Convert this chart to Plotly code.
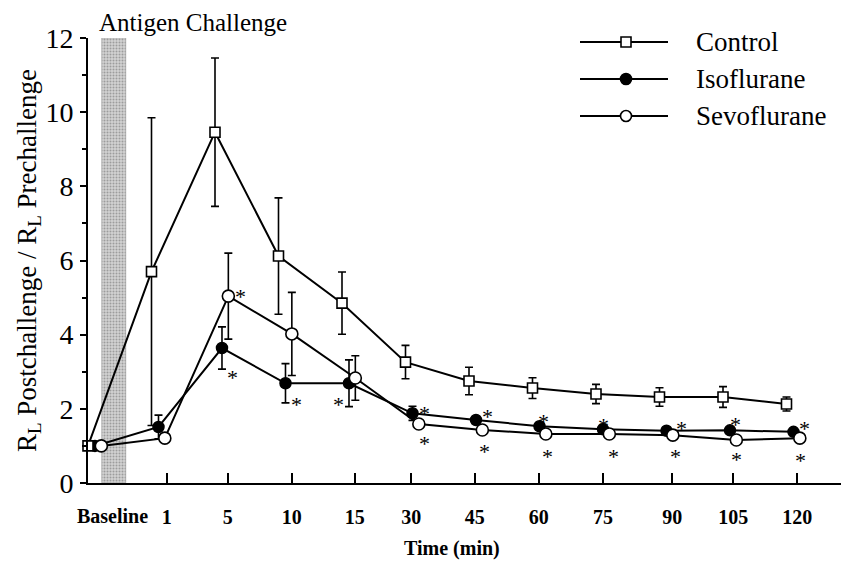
import plotly.graph_objects as go

# ---------------- data ----------------
tick_labels = ["Baseline", "1", "5", "10", "15", "30", "45", "60", "75", "90", "105", "120"]
slots = list(range(12))  # time slot index (Baseline = 0)

control = [1.0, 5.70, 9.46, 6.12, 4.85, 3.26, 2.75, 2.56, 2.40, 2.32, 2.32, 2.13]
control_err = [0, 4.15, 2.00, 1.57, 0.84, 0.45, 0.37, 0.28, 0.26, 0.25, 0.28, 0.19]

isoflurane = [1.0, 1.51, 3.64, 2.69, 2.69, 1.88, 1.70, 1.53, 1.45, 1.41, 1.42, 1.38]
isoflurane_err = [0, 0.32, 0.57, 0.53, 0.63, 0.19, 0.08, 0.07, 0.06, 0.06, 0.06, 0.06]

sevoflurane = [1.0, 1.21, 5.04, 4.02, 2.83, 1.59, 1.43, 1.32, 1.32, 1.29, 1.16, 1.21]
sevoflurane_err = [0, 0.05, 1.16, 1.12, 0.60, 0.05, 0.05, 0.05, 0.05, 0.05, 0.05, 0.05]

# significance (*) flags per slot
iso_sig = [0, 0, 1, 1, 1, 1, 1, 1, 1, 1, 1, 1]
sevo_sig = [0, 0, 1, 0, 0, 1, 1, 1, 1, 1, 1, 1]

challenge_height = 12

# ---------------- layout helpers (positions / styles) ----------------
PAGE_OFF = 8                      # browser body margin
W, H = 849 - PAGE_OFF, 570 - PAGE_OFF
# plot area in page pixels: left 88, top 38, right 849, bottom 483
ML, MT = 88 - PAGE_OFF, 38 - PAGE_OFF
MR = 0
MB = H - (483 - PAGE_OFF)
PW, PH = W - ML - MR, H - MT - MB
SLOT_PX = 63.5
XMAX = PW / SLOT_PX
tick_pos = [1.24, 2.20, 3.21, 4.20, 5.09, 6.09, 7.10, 8.11, 9.20, 10.16, 11.17]
offsets = {"control": 0.0, "iso": 0.11, "sevo": 0.21}
FONT = "Liberation Serif, Times New Roman, serif"

# star offsets in pixels (dx, dy up)
iso_star = {2: (11, -23), 3: (11, -15), 4: (-10, -15), 5: (12, 6), 6: (12, 9), 7: (4, 11),
            8: (1, 10), 9: (15, 8), 10: (6, 12), 11: (11, 9)}
sevo_star = {2: (12, 6), 5: (6, -13), 6: (2, -16), 7: (2, -16), 8: (4, -16), 9: (3, -15),
             10: (0, -14), 11: (1, -16)}
STAR_SIZE = 22
STAR_Y_CORR = -6


def xs(key):
    return [s + offsets[key] for s in slots]


def px2paper(px, py):
    """page pixel -> paper coords"""
    return (px - 88) / PW, (483 - py) / PH


fig = go.Figure()

# antigen challenge window
fig.add_trace(go.Bar(
    x=[0.41], y=[challenge_height], width=[0.37], base=0,
    marker=dict(color="#c8c8c8", line=dict(color="#888", width=0.5),
                pattern=dict(shape=".", fgcolor="#666666", bgcolor="#d2d2d2", size=3, solidity=0.35)),
    showlegend=False, hoverinfo="skip"))

line_style = dict(color="black", width=2)
err_style = dict(type="data", symmetric=True, color="black", thickness=1.6, width=4)

fig.add_trace(go.Scatter(
    x=xs("iso"), y=isoflurane, mode="lines+markers", name="Isoflurane",
    line=line_style,
    marker=dict(symbol="circle", size=11, color="black", line=dict(color="black", width=1.5)),
    error_y=dict(array=isoflurane_err, **err_style), cliponaxis=False, showlegend=False))

fig.add_trace(go.Scatter(
    x=xs("sevo"), y=sevoflurane, mode="lines+markers", name="Sevoflurane",
    line=line_style,
    marker=dict(symbol="circle", size=12, color="white", line=dict(color="black", width=1.6)),
    error_y=dict(array=sevoflurane_err, **err_style), cliponaxis=False, showlegend=False))

fig.add_trace(go.Scatter(
    x=xs("control"), y=control, mode="lines+markers", name="Control",
    line=line_style,
    marker=dict(symbol="square", size=10, color="white", line=dict(color="black", width=1.6)),
    error_y=dict(array=control_err, **err_style), cliponaxis=False, showlegend=False))

annotations = []
# asterisks
for i, flag in enumerate(iso_sig):
    if flag:
        dx, dy = iso_star[i]
        annotations.append(dict(x=xs("iso")[i], y=isoflurane[i], xref="x", yref="y", text="*",
                                showarrow=False, xshift=dx, yshift=dy + STAR_Y_CORR,
                                font=dict(family=FONT, size=STAR_SIZE, color="black")))
for i, flag in enumerate(sevo_sig):
    if flag:
        dx, dy = sevo_star[i]
        annotations.append(dict(x=xs("sevo")[i], y=sevoflurane[i], xref="x", yref="y", text="*",
                                showarrow=False, xshift=dx, yshift=dy + STAR_Y_CORR,
                                font=dict(family=FONT, size=STAR_SIZE, color="black")))

# Baseline tick label
annotations.append(dict(x=0.39, y=0, xref="x", yref="y", text=tick_labels[0], showarrow=False,
                        yshift=-33, font=dict(family=FONT, size=20, color="black", weight="bold")))
# Antigen challenge label
ax_, ay_ = px2paper(193, 23)
annotations.append(dict(x=ax_, y=ay_, xref="paper", yref="paper", xanchor="center", yanchor="middle",
                        text="Antigen Challenge", showarrow=False,
                        font=dict(family=FONT, size=25, color="black")))
# x title
tx_, ty_ = px2paper(452, 548)
annotations.append(dict(x=tx_, y=ty_, xref="paper", yref="paper", xanchor="center", yanchor="middle",
                        text="Time (min)", showarrow=False,
                        font=dict(family=FONT, size=20, color="black", weight="bold")))

# custom legend
shapes = []
legend_rows = [("Control", 42, "square", "white"),
               ("Isoflurane", 79, "circle", "black"),
               ("Sevoflurane", 116, "circle", "white")]

for name, py, sym, fill in legend_rows:
    x0, y0 = px2paper(580, py)
    x1, _ = px2paper(668, py)
    xm, _ = px2paper(626, py)
    shapes.append(dict(type="line", xref="paper", yref="paper", x0=x0, x1=x1, y0=y0, y1=y0,
                       line=dict(color="black", width=2)))
    r = 5 if sym == "square" else 5.5
    shapes.append(dict(type="rect" if sym == "square" else "circle", xref="paper", yref="paper",
                       xsizemode="pixel", ysizemode="pixel", xanchor=xm, yanchor=y0,
                       x0=-r, x1=r, y0=-r, y1=r, fillcolor=fill,
                       line=dict(color="black", width=1.6)))
    lx, ly = px2paper(694, py)
    annotations.append(dict(x=lx, y=ly, xref="paper", yref="paper", text=name, showarrow=False,
                            xanchor="left", yanchor="middle",
                            font=dict(family=FONT, size=27, color="black")))

fig.update_layout(
    width=W, height=H,
    margin=dict(l=ML, r=MR, t=MT, b=MB, autoexpand=False),
    plot_bgcolor="white", paper_bgcolor="white",
    font=dict(family=FONT, color="black"),
    showlegend=False, bargap=0,
    annotations=annotations, shapes=shapes,
    xaxis=dict(range=[0, XMAX], tickvals=tick_pos, ticktext=tick_labels[1:],
               ticks="inside", ticklen=10, tickwidth=1.5, tickcolor="black",
               showline=True, linecolor="black", linewidth=2, showgrid=False, zeroline=False,
               ticklabelstandoff=15,
               tickfont=dict(family=FONT, size=20, color="black", weight="bold")),
    yaxis=dict(range=[0, 12], tickvals=[0, 2, 4, 6, 8, 10, 12],
               ticks="outside", ticklen=6, tickwidth=1.5, tickcolor="black",
               minor=dict(ticks="outside", ticklen=4, dtick=1, tickcolor="black", tickwidth=1.5),
               showline=True, linecolor="black", linewidth=2, showgrid=False, zeroline=False,
               tickfont=dict(family=FONT, size=28, color="black"), ticklabelstandoff=1,
               title=dict(text="R<sub>L</sub> Postchallenge / R<sub>L</sub> Prechallenge",
                          font=dict(family=FONT, size=27, color="black"), standoff=1)),
)

fig.write_html("out.html")
